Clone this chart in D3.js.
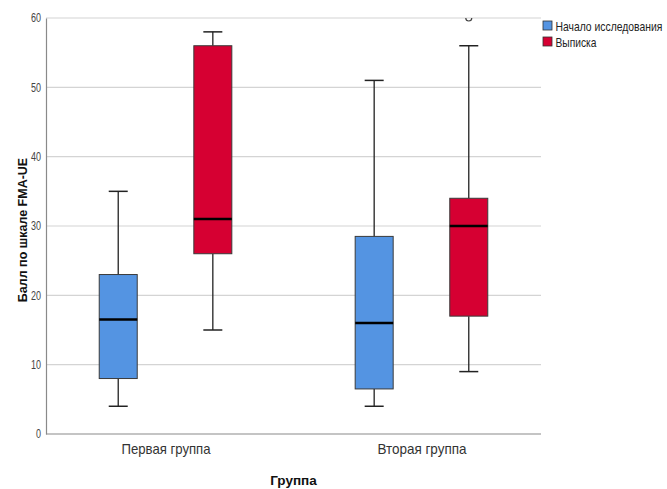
<!DOCTYPE html>
<html>
<head>
<meta charset="utf-8">
<script src="https://cdn.jsdelivr.net/npm/d3@7"></script>
<style>
  html, body { margin: 0; padding: 0; background: #fff; }
  svg { display: block; font-family: "Liberation Sans", Arial, sans-serif; }
</style>
</head>
<body>
<svg id="chart" width="667" height="489"></svg>
<script>
// Groups and series
const groups = ["Первая группа", "Вторая группа"];
const series = ["Начало исследования", "Выписка"];
const seriesColors = ["#5494e2", "#d60032"];

// Five-number summaries per group, per series: [min, q1, median, q3, max]
const startStats = [
  [4, 8, 16.5, 23, 35],
  [4, 6.5, 16, 28.5, 51]
];
const dischargeStats = [
  [15, 26, 31, 56, 58],
  [9, 17, 30, 34, 56]
];
// Outliers: [groupIndex, seriesIndex, value]
const outliers = [[1, 1, 60]];

const yTicks = [0, 10, 20, 30, 40, 50, 60];
const yTitle = "Балл по шкале FMA-UE";
const xTitle = "Группа";

const svg = d3.select("#chart");
const plot = { left: 46, right: 541, top: 18, bottom: 434 };

const y = d3.scaleLinear().domain([0, 60]).range([plot.bottom, plot.top]);
const x = d3.scalePoint().domain(groups).range([plot.left, plot.right]).padding(0.467);
const xs = d3.scalePoint().domain(series).range([-47.3, 47.3]);
const boxW = 38, capW = 19;

svg.append("defs").append("clipPath").attr("id", "plotClip")
  .append("rect").attr("x", plot.left).attr("y", plot.top)
  .attr("width", plot.right - plot.left).attr("height", plot.bottom - plot.top);

// Gridlines
svg.append("g").selectAll("line").data(yTicks.filter(d => d > 0)).join("line")
  .attr("x1", plot.left).attr("x2", plot.right)
  .attr("y1", d => y(d)).attr("y2", d => y(d))
  .attr("stroke", "#d4d4d4").attr("stroke-width", 1.2);

// Y axis (condensed digits)
const yAxis = svg.append("g").attr("transform", `translate(${plot.left},0)`)
  .call(d3.axisLeft(y).tickValues(yTicks).tickSize(0).tickPadding(5));
yAxis.attr("font-family", null).attr("font-size", null);
yAxis.select(".domain").attr("stroke", "#8a8a8a").attr("stroke-width", 1.2);
yAxis.selectAll("text").attr("fill", "#444").style("font-size", "12px")
  .attr("textLength", d => String(d).length * 5).attr("lengthAdjust", "spacingAndGlyphs");

// X axis
const xAxis = svg.append("g").attr("transform", `translate(0,${plot.bottom})`)
  .call(d3.axisBottom(x).tickSize(0).tickPadding(10));
xAxis.attr("font-family", null).attr("font-size", null);
xAxis.select(".domain").attr("d", `M${plot.left},0H${plot.right}`)
  .attr("stroke", "#8a8a8a").attr("stroke-width", 1.2);
xAxis.selectAll("text").attr("fill", "#333").style("font-size", "14.5px")
  .attr("textLength", 89).attr("lengthAdjust", "spacingAndGlyphs");

// Axis titles
svg.append("text").attr("transform", "translate(27,230) rotate(-90)")
  .attr("text-anchor", "middle").style("font-size", "12.5px").style("font-weight", "bold")
  .attr("fill", "#111").text(yTitle);
svg.append("text").attr("x", (plot.left + plot.right) / 2).attr("y", 485)
  .attr("text-anchor", "middle").style("font-size", "13.5px").style("font-weight", "bold")
  .attr("fill", "#111").text(xTitle);

// Boxes
const boxes = [];
groups.forEach((g, gi) => {
  [startStats, dischargeStats].forEach((st, si) => {
    const [mn, q1, md, q3, mx] = st[gi];
    boxes.push({ g, s: series[si], color: seriesColors[si], mn, q1, md, q3, mx });
  });
});

const bg = svg.append("g").selectAll("g").data(boxes).join("g")
  .attr("transform", d => `translate(${x(d.g) + xs(d.s)},0)`);

// Whiskers
bg.append("line").attr("x1", 0).attr("x2", 0)
  .attr("y1", d => y(d.mx)).attr("y2", d => y(d.q3))
  .attr("stroke", "#222").attr("stroke-width", 1.3);
bg.append("line").attr("x1", 0).attr("x2", 0)
  .attr("y1", d => y(d.q1)).attr("y2", d => y(d.mn))
  .attr("stroke", "#222").attr("stroke-width", 1.3);
bg.append("line").attr("x1", -capW / 2).attr("x2", capW / 2)
  .attr("y1", d => y(d.mx)).attr("y2", d => y(d.mx))
  .attr("stroke", "#222").attr("stroke-width", 1.5);
bg.append("line").attr("x1", -capW / 2).attr("x2", capW / 2)
  .attr("y1", d => y(d.mn)).attr("y2", d => y(d.mn))
  .attr("stroke", "#222").attr("stroke-width", 1.5);

// Box body
bg.append("rect").attr("x", -boxW / 2).attr("width", boxW)
  .attr("y", d => y(d.q3)).attr("height", d => y(d.q1) - y(d.q3))
  .attr("fill", d => d.color).attr("stroke", "#3a3a3a").attr("stroke-width", 1);

// Median
bg.append("line").attr("x1", -boxW / 2).attr("x2", boxW / 2)
  .attr("y1", d => y(d.md)).attr("y2", d => y(d.md))
  .attr("stroke", "#000").attr("stroke-width", 2.5);

// Outliers
svg.append("g").attr("clip-path", "url(#plotClip)").selectAll("circle").data(outliers).join("circle")
  .attr("cx", d => x(groups[d[0]]) + xs(series[d[1]]))
  .attr("cy", d => y(d[2]))
  .attr("r", 3).attr("fill", "none").attr("stroke", "#444").attr("stroke-width", 1.2);

// Legend: labels are horizontally condensed to a target width
const legendWidths = [107, 41];
const lg = svg.append("g").attr("transform", "translate(543,21)");
const li = lg.selectAll("g").data(series).join("g")
  .attr("transform", (d, i) => `translate(0,${i * 16})`);
li.append("rect").attr("width", 9).attr("height", 9)
  .attr("fill", (d, i) => seriesColors[i]).attr("stroke", "#333").attr("stroke-width", 0.8);
li.append("text").style("font-size", "12.5px")
  .attr("fill", "#222").text(d => d)
  .each(function (d, i) {
    const w = this.getComputedTextLength();
    const k = w > 0 ? Math.min(1, legendWidths[i] / w) : 1;
    d3.select(this).attr("transform", `translate(12.5,9.5) scale(${k},1)`);
  });
</script>
</body>
</html>
